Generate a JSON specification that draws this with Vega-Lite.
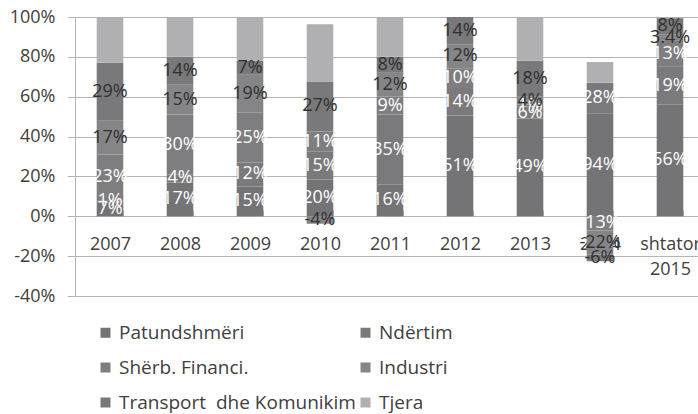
{
  "$schema": "https://vega.github.io/schema/vega-lite/v6.json",
  "width": 630,
  "height": 279,
  "autosize": {"type": "none"},
  "padding": {"left": 75, "top": 17, "right": -7, "bottom": 118},
  "background": "white",
  "config": {"view": {"stroke": null}, "font": "Open Sans", "axisY": {"labelOverlap": false}, "axis": {"labelOverlap": false}},
  "data": {"values": [
    {"year": "2007", "sector": "Patundshmëri", "idx": 1, "share": 0.07, "lbl": "7%"},
    {"year": "2007", "sector": "Ndërtim", "idx": 2, "share": 0.01, "lbl": "1%"},
    {"year": "2007", "sector": "Shërb. Financi.", "idx": 3, "share": 0.23, "lbl": "23%"},
    {"year": "2007", "sector": "Industri", "idx": 4, "share": 0.17, "lbl": "17%"},
    {"year": "2007", "sector": "Transport\u00a0 dhe Komunikim", "idx": 5, "share": 0.29, "lbl": "29%"},
    {"year": "2007", "sector": "Tjera", "idx": 6, "share": 0.23, "lbl": ""},
    {"year": "2008", "sector": "Patundshmëri", "idx": 1, "share": 0.17, "lbl": "17%"},
    {"year": "2008", "sector": "Ndërtim", "idx": 2, "share": 0.04, "lbl": "4%"},
    {"year": "2008", "sector": "Shërb. Financi.", "idx": 3, "share": 0.30, "lbl": "30%"},
    {"year": "2008", "sector": "Industri", "idx": 4, "share": 0.15, "lbl": "15%"},
    {"year": "2008", "sector": "Transport\u00a0 dhe Komunikim", "idx": 5, "share": 0.14, "lbl": "14%"},
    {"year": "2008", "sector": "Tjera", "idx": 6, "share": 0.20, "lbl": ""},
    {"year": "2009", "sector": "Patundshmëri", "idx": 1, "share": 0.15, "lbl": "15%"},
    {"year": "2009", "sector": "Ndërtim", "idx": 2, "share": 0.12, "lbl": "12%"},
    {"year": "2009", "sector": "Shërb. Financi.", "idx": 3, "share": 0.25, "lbl": "25%"},
    {"year": "2009", "sector": "Industri", "idx": 4, "share": 0.19, "lbl": "19%"},
    {"year": "2009", "sector": "Transport\u00a0 dhe Komunikim", "idx": 5, "share": 0.07, "lbl": "7%"},
    {"year": "2009", "sector": "Tjera", "idx": 6, "share": 0.22, "lbl": ""},
    {"year": "2010", "sector": "Patundshmëri", "idx": 1, "share": 0.1852, "lbl": "20%"},
    {"year": "2010", "sector": "Ndërtim", "idx": 2, "share": 0.1389, "lbl": "15%"},
    {"year": "2010", "sector": "Shërb. Financi.", "idx": 3, "share": 0.1019, "lbl": "11%"},
    {"year": "2010", "sector": "Industri", "idx": 4, "share": -0.037, "lbl": "-4%"},
    {"year": "2010", "sector": "Transport\u00a0 dhe Komunikim", "idx": 5, "share": 0.25, "lbl": "27%"},
    {"year": "2010", "sector": "Tjera", "idx": 6, "share": 0.287, "lbl": ""},
    {"year": "2011", "sector": "Patundshmëri", "idx": 1, "share": 0.16, "lbl": "16%"},
    {"year": "2011", "sector": "Ndërtim", "idx": 2, "share": 0.35, "lbl": "35%"},
    {"year": "2011", "sector": "Shërb. Financi.", "idx": 3, "share": 0.09, "lbl": "9%"},
    {"year": "2011", "sector": "Industri", "idx": 4, "share": 0.12, "lbl": "12%"},
    {"year": "2011", "sector": "Transport\u00a0 dhe Komunikim", "idx": 5, "share": 0.08, "lbl": "8%"},
    {"year": "2011", "sector": "Tjera", "idx": 6, "share": 0.20, "lbl": ""},
    {"year": "2012", "sector": "Patundshmëri", "idx": 1, "share": 0.505, "lbl": "51%"},
    {"year": "2012", "sector": "Ndërtim", "idx": 2, "share": 0.1386, "lbl": "14%"},
    {"year": "2012", "sector": "Shërb. Financi.", "idx": 3, "share": 0.099, "lbl": "10%"},
    {"year": "2012", "sector": "Industri", "idx": 4, "share": 0.1188, "lbl": "12%"},
    {"year": "2012", "sector": "Transport\u00a0 dhe Komunikim", "idx": 5, "share": 0.1386, "lbl": "14%"},
    {"year": "2012", "sector": "Tjera", "idx": 6, "share": 0.0, "lbl": ""},
    {"year": "2013", "sector": "Patundshmëri", "idx": 1, "share": 0.49, "lbl": "49%"},
    {"year": "2013", "sector": "Ndërtim", "idx": 2, "share": 0.06, "lbl": "6%"},
    {"year": "2013", "sector": "Shërb. Financi.", "idx": 3, "share": 0.01, "lbl": "1%"},
    {"year": "2013", "sector": "Industri", "idx": 4, "share": 0.04, "lbl": "4%"},
    {"year": "2013", "sector": "Transport\u00a0 dhe Komunikim", "idx": 5, "share": 0.18, "lbl": "18%"},
    {"year": "2013", "sector": "Tjera", "idx": 6, "share": 0.22, "lbl": ""},
    {"year": "2014", "sector": "Patundshmëri", "idx": 1, "share": 0.5165, "lbl": "94%"},
    {"year": "2014", "sector": "Ndërtim", "idx": 2, "share": 0.1538, "lbl": "28%"},
    {"year": "2014", "sector": "Shërb. Financi.", "idx": 3, "share": -0.0714, "lbl": "-13%"},
    {"year": "2014", "sector": "Industri", "idx": 4, "share": -0.1209, "lbl": "-22%"},
    {"year": "2014", "sector": "Transport\u00a0 dhe Komunikim", "idx": 5, "share": -0.033, "lbl": "-6%"},
    {"year": "2014", "sector": "Tjera", "idx": 6, "share": 0.1044, "lbl": ""},
    {"year": "shtator 2015", "sector": "Patundshmëri", "idx": 1, "share": 0.56, "lbl": "56%"},
    {"year": "shtator 2015", "sector": "Ndërtim", "idx": 2, "share": 0.19, "lbl": "19%"},
    {"year": "shtator 2015", "sector": "Shërb. Financi.", "idx": 3, "share": 0.13, "lbl": "13%"},
    {"year": "shtator 2015", "sector": "Industri", "idx": 4, "share": 0.034, "lbl": "3.4%"},
    {"year": "shtator 2015", "sector": "Transport\u00a0 dhe Komunikim", "idx": 5, "share": 0.08, "lbl": "8%"},
    {"year": "shtator 2015", "sector": "Tjera", "idx": 6, "share": 0.006, "lbl": ""}
  ]},
  "encoding": {
    "x": {
      "field": "year", "type": "nominal", "sort": null,
      "scale": {"paddingInner": 0.62, "paddingOuter": 0.31},
      "axis": {
        "title": null, "labelAngle": 0, "orient": "bottom", "offset": -80,
        "domain": true, "domainColor": "#b4b4b4", "ticks": true, "tickColor": "#b4b4b4",
        "tickSize": -6, "tickBand": "extent", "labelPadding": 25,
        "labelFont": "Open Sans", "labelFontSize": 18, "labelColor": "#404040",
        "labelExpr": "datum.label == 'shtator 2015' ? ['shtator', '2015'] : datum.label",
        "labelLineHeight": 25, "grid": false, "labelOverlap": false
      }
    },
    "y": {
      "field": "share", "type": "quantitative", "stack": "zero",
      "scale": {"domain": [-0.4, 1.0], "nice": false},
      "axis": {
        "title": null, "format": ".0%", "values": [-0.4, -0.2, 0, 0.2, 0.4, 0.6, 0.8, 1.0],
        "labelExpr": "replace(datum.label, '\u2212', '-')", "labelOverlap": false,
        "grid": true, "gridColor": "#b4b4b4", "domainColor": "#b4b4b4", "tickColor": "#b4b4b4",
        "tickSize": 8, "labelPadding": 12, "labelFont": "Open Sans", "labelFontSize": 18,
        "labelColor": "#404040"
      }
    },
    "order": {"field": "idx", "type": "quantitative"}
  },
  "layer": [
    {
      "mark": {"type": "bar"},
      "encoding": {
        "color": {
          "field": "sector", "type": "nominal",
          "scale": {
            "domain": ["Patundshmëri", "Ndërtim", "Shërb. Financi.", "Industri", "Transport\u00a0 dhe Komunikim", "Tjera"],
            "range": ["#747476", "#7a7a7c", "#7e7e80", "#858587", "#79797b", "#b0b0b2"]
          },
          "legend": {
            "title": null, "orient": "none", "legendX": 21, "legendY": 306, "columns": 2,
            "direction": "horizontal",
            "symbolType": "square", "symbolSize": 100, "symbolStrokeWidth": 0,
            "labelFont": "Open Sans", "labelFontSize": 19, "labelColor": "#404040",
            "labelOffset": 4, "labelLimit": 400, "rowPadding": 15, "columnPadding": 0, "padding": 0
          }
        }
      }
    },
    {
      "mark": {"type": "text", "font": "Open Sans", "fontSize": 18, "align": "center", "baseline": "middle"},
      "encoding": {
        "y": {"field": "share", "type": "quantitative", "stack": "zero", "bandPosition": 0.5},
        "detail": {"field": "sector"},
        "text": {"field": "lbl"},
        "color": {"condition": {"test": "datum.idx <= 3", "value": "#ffffff"}, "value": "#303030"}
      }
    }
  ]
}
